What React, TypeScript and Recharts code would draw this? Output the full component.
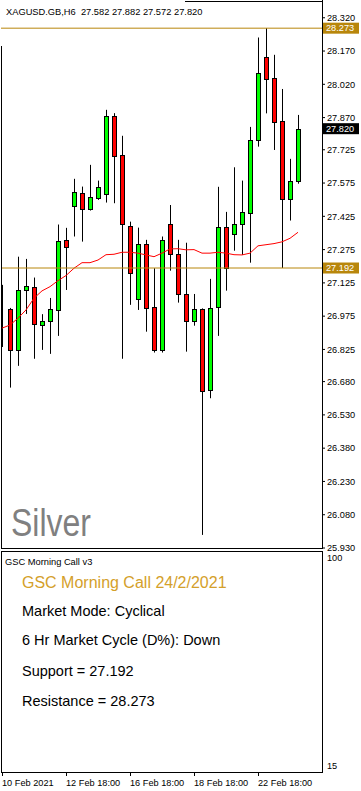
import { ComposedChart, Bar, Line, XAxis, YAxis, ReferenceLine } from "recharts";

const symbol = "XAGUSD.GB,H6";
const indicatorName = "GSC Morning Call v3";
const callTitle = "GSC Morning Call 24/2/2021";
const marketMode = "Cyclical";
const cycleDirection = "Down";
const support = 27.192;
const resistance = 28.273;

const opens = [
  26.967, 27.008, 26.823, 27.092, 27.105, 26.934, 26.952, 27.004, 27.317, 27.473,
  27.529, 27.46, 27.509, 27.525, 27.878, 27.702, 27.382, 27.051, 27.301, 27.017,
  26.821, 27.391, 27.256, 27.075, 26.951, 27.007, 26.641, 27.015, 27.376, 27.344,
  27.389, 27.442, 27.768, 28.142, 28.048, 27.855, 27.502, 27.582,
];
const highs = [
  27.116, 27.012, 27.243, 27.233, 27.149, 26.984, 27.057, 27.388, 27.373, 27.594,
  27.559, 27.657, 27.586, 27.905, 27.89, 27.788, 27.401, 27.374, 27.319, 27.191,
  27.334, 27.476, 27.319, 27.306, 27.075, 27.01, 27.143, 27.558, 27.445, 27.646,
  27.586, 27.828, 28.231, 28.273, 28.153, 27.999, 27.684, 27.882,
];
const lows = [
  26.836, 26.653, 26.751, 26.985, 26.783, 26.823, 26.805, 26.886, 27.093, 27.334,
  27.311, 27.451, 27.499, 27.487, 27.484, 26.783, 27.026, 27.003, 26.905, 26.811,
  26.811, 27.18, 27.036, 26.815, 26.932, 25.989, 26.605, 26.886, 27.09, 27.27,
  27.251, 27.216, 27.739, 27.889, 27.724, 27.192, 27.406, 27.572,
];
const closes = [
  26.965, 26.823, 27.093, 27.11, 26.939, 26.953, 27.008, 27.314, 27.286, 27.535,
  27.457, 27.513, 27.558, 27.878, 27.699, 27.389, 27.171, 27.301, 27.013, 26.821,
  27.319, 27.254, 27.074, 26.951, 27.007, 26.636, 27.011, 27.376, 27.191, 27.389,
  27.444, 27.768, 28.07, 28.043, 27.852, 27.502, 27.585, 27.82,
];
const movingAvg = [
  26.921, 26.935, 26.966, 27.003, 27.056, 27.089, 27.108, 27.135, 27.158, 27.191,
  27.216, 27.216, 27.228, 27.252, 27.254, 27.263, 27.263, 27.259, 27.251, 27.243,
  27.259, 27.278, 27.279, 27.274, 27.275, 27.259, 27.259, 27.263, 27.259, 27.252,
  27.251, 27.259, 27.292, 27.297, 27.302, 27.31, 27.326, 27.353,
];

const priceTicks = [
  28.32, 28.17, 28.02, 27.87, 27.725, 27.575, 27.425, 27.275, 27.125, 26.975,
  26.825, 26.68, 26.53, 26.38, 26.23, 26.08, 25.93,
];
const dateTicks = [0, 8, 16, 24, 32];
const dateLabels = ["10 Feb 2021", "12 Feb 18:00", "16 Feb 18:00", "18 Feb 18:00", "22 Feb 18:00"];
const indicatorTicks = [15, 100];

const GOLD = "#B8860B";
const FONT = "'Liberation Sans', Arial, sans-serif";

const rows = opens.map((o, i) => ({
  i,
  open: o,
  high: highs[i],
  low: lows[i],
  close: closes[i],
  range: [lows[i], highs[i]],
  ma: movingAvg[i],
}));

const last = rows[rows.length - 1];

const Candle = (props: any) => {
  const { x, y, width, height, payload } = props;
  if (x == null || !payload) return null;
  const top = Math.min(y, y + height);
  const span = Math.abs(height);
  const k = span / (payload.high - payload.low || 1);
  const py = (p: number) => top + (payload.high - p) * k;
  const cx = Math.round(x + width / 2);
  const up = payload.close >= payload.open;
  const bTop = Math.round(py(Math.max(payload.open, payload.close)));
  const bBot = Math.round(py(Math.min(payload.open, payload.close)));
  return (
    <g>
      <line x1={cx + 0.5} x2={cx + 0.5} y1={top} y2={top + span} stroke="#000" strokeWidth={1} />
      <rect
        x={cx - 1.5}
        y={bTop + 0.5}
        width={4}
        height={Math.max(bBot - bTop, 0)}
        fill={up ? "#00FF00" : "#FF0000"}
        stroke="#000"
        strokeWidth={1}
      />
    </g>
  );
};

const priceBox = (value: number, bg: string) => (props: any) => {
  const vb = props.viewBox || {};
  const bx = (vb.x ?? 0) + (vb.width ?? 0) + 1;
  const by = vb.y ?? 0;
  return (
    <g>
      <rect x={bx} y={by - 5.5} width={36} height={11} fill={bg} />
      <text x={bx + 3} y={by + 3.3} fontSize={9.2} fill="#fff" fontFamily={FONT}>
        {value.toFixed(3)}
      </text>
    </g>
  );
};

const DateTick = ({ x, y, payload }: any) => {
  const idx = dateTicks.indexOf(payload.value);
  return (
    <g>
      <line x1={x + 0.5} x2={x + 0.5} y1={y} y2={y + 3} stroke="#000" />
      <text x={x} y={y + 13} fontSize={9.2} fill="#000" textAnchor="start" fontFamily={FONT}>
        {dateLabels[idx] ?? ""}
      </text>
    </g>
  );
};

const line = (left: number, top: number, width: number, height: number) => (
  <div style={{ position: "absolute", left, top, width, height, background: "#000" }} />
);

export default function App() {
  return (
    <div
      style={{
        position: "absolute",
        left: 0,
        top: 0,
        width: 361,
        height: 791,
        background: "#fff",
        overflow: "hidden",
        fontFamily: FONT,
      }}
    >
      <div style={{ position: "absolute", left: 0, top: 0 }}>
        <ComposedChart width={361} height={560} data={rows} margin={{ top: 2, right: 0, bottom: 12, left: 1 }}>
          <XAxis type="number" dataKey="i" domain={[-0.125, 40]} allowDataOverflow hide />
          <YAxis
            orientation="right"
            type="number"
            domain={[25.93, 28.391]}
            allowDataOverflow
            ticks={priceTicks}
            interval={0}
            width={39}
            tickSize={3}
            tickMargin={2}
            axisLine={false}
            tickLine={{ stroke: "#000" }}
            tick={{ fontSize: 9.2, fill: "#000" }}
            tickFormatter={(v: number) => v.toFixed(3)}
          />
          <Bar dataKey="range" barSize={6} shape={(p: any) => <Candle {...p} />} isAnimationActive={false} />
          <Line
            dataKey="ma"
            type="linear"
            stroke="#FF0000"
            strokeWidth={1}
            dot={false}
            activeDot={false}
            isAnimationActive={false}
          />
          <ReferenceLine y={resistance} stroke={GOLD} strokeWidth={1} label={priceBox(resistance, GOLD)} />
          <ReferenceLine y={support} stroke={GOLD} strokeWidth={1} label={priceBox(support, GOLD)} />
          <ReferenceLine y={last.close} stroke="none" label={priceBox(last.close, "#000")} />
        </ComposedChart>
      </div>

      <div style={{ position: "absolute", left: 0, top: 551 }}>
        <ComposedChart width={361} height={240} data={rows} margin={{ top: 0, right: 0, bottom: 0, left: 1 }}>
          <XAxis
            type="number"
            dataKey="i"
            domain={[-0.125, 40]}
            allowDataOverflow
            ticks={dateTicks}
            interval={0}
            height={18}
            tickSize={0}
            tickMargin={0}
            axisLine={false}
            tickLine={false}
            tick={<DateTick />}
          />
          <YAxis
            orientation="right"
            type="number"
            domain={[12.14, 102.86]}
            allowDataOverflow
            ticks={indicatorTicks}
            interval={0}
            width={39}
            tickSize={0}
            tickMargin={5}
            axisLine={false}
            tickLine={false}
            tick={{ fontSize: 9.2, fill: "#000" }}
          />
        </ComposedChart>
      </div>

      {/* panel frames */}
      {line(185, 1, 138, 1)}
      {line(1, 46, 1, 503)}
      {line(1, 548, 322, 1)}
      {line(322, 0, 1, 549)}
      <div
        style={{
          position: "absolute",
          left: 1,
          top: 551,
          width: 322,
          height: 222,
          border: "1px solid #000",
          boxSizing: "border-box",
        }}
      />

      <svg
        width={361}
        height={791}
        style={{ position: "absolute", left: 0, top: 0, pointerEvents: "none" }}
        fontFamily={FONT}
      >
        <text x={6} y={14.5} fontSize={9.3} fill="#000" style={{ whiteSpace: "pre" }}>
          {`${symbol}  ${last.open.toFixed(3)} ${last.high.toFixed(3)} ${last.low.toFixed(3)} ${last.close.toFixed(3)}`}
        </text>
        <text
          x={11}
          y={536}
          fontSize={39}
          fill="#808080"
          textLength={80}
          lengthAdjust="spacingAndGlyphs"
          fontFamily="'Liberation Sans Narrow', 'Liberation Sans', Arial, sans-serif"
        >
          Silver
        </text>
        <text x={5} y={564.5} fontSize={9.3} fill="#000">
          {indicatorName}
        </text>
        <text x={22} y={587.5} fontSize={16} fill="#D4A02A">
          {callTitle}
        </text>
        <text x={22} y={616} fontSize={14.5} fill="#000">
          {`Market Mode: ${marketMode}`}
        </text>
        <text x={22} y={645.3} fontSize={14.5} fill="#000">
          {`6 Hr Market Cycle (D%): ${cycleDirection}`}
        </text>
        <text x={22} y={675.5} fontSize={14.5} fill="#000">
          {`Support = ${support.toFixed(3)}`}
        </text>
        <text x={22} y={705.5} fontSize={14.5} fill="#000">
          {`Resistance = ${resistance.toFixed(3)}`}
        </text>
      </svg>
    </div>
  );
}
